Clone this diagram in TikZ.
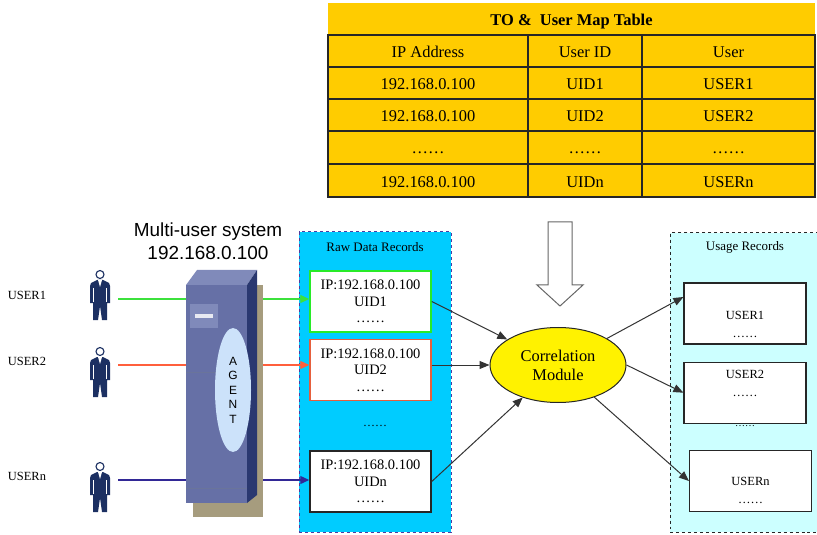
\documentclass[tikz,border=0pt]{standalone}
\usepackage{fontspec}
\setmainfont{Liberation Serif}
\newfontfamily\arialfont{Liberation Sans}
\usepackage{xcolor}
\definecolor{gold}{RGB}{255,204,0}
\definecolor{skyfill}{RGB}{0,204,255}
\definecolor{paleaqua}{RGB}{204,255,255}
\definecolor{rawedge}{RGB}{80,60,160}
\definecolor{suit}{RGB}{28,48,98}
\definecolor{linegreen}{RGB}{60,225,60}
\definecolor{linered}{RGB}{255,95,60}
\definecolor{lineblue}{RGB}{50,40,150}
\definecolor{boxgreen}{RGB}{40,235,40}
\definecolor{boxred}{RGB}{230,95,60}
\definecolor{towerfront}{RGB}{102,112,166}
\definecolor{towertop}{RGB}{128,138,186}
\definecolor{towerside}{RGB}{42,56,112}
\definecolor{towershadow}{RGB}{166,156,126}
\definecolor{agentfill}{RGB}{204,226,250}
\usepackage{tikz}
\usetikzlibrary{arrows.meta, shapes.geometric, positioning}
\tikzset{
  grid/.style={draw=black!85, line width=1.2bp},
  tabtitle/.style={font=\fontsize{16.5}{19}\selectfont\bfseries, inner sep=0},
  cell/.style={font=\fontsize{16.5}{19}\selectfont, text height=16bp, text depth=2bp, inner sep=0},
  rawarea/.style={draw=rawedge, dashed, fill=skyfill, line width=1bp,
    minimum width=152bp, minimum height=300bp},
  usagearea/.style={draw=black!85, dashed, fill=paleaqua, line width=1bp,
    minimum width=170bp, minimum height=299bp},
  arealabel/.style={font=\fontsize{13}{15}\selectfont, inner sep=0},
  rawbox/.style={fill=white, line width=1.5bp, minimum width=121bp, minimum height=61bp,
    align=center, inner sep=1bp, font=\fontsize{14.5}{16.5}\selectfont},
  usagebox/.style={draw=black!85, fill=white, line width=1.2bp, minimum width=122bp,
    minimum height=61bp, align=center, inner sep=1bp, font=\fontsize{12.5}{18}\selectfont},
  dots/.style={font=\fontsize{12}{14}\selectfont, inner sep=0},
  corr/.style={ellipse, draw=black!85, fill=yellow, line width=1bp, minimum width=136bp,
    minimum height=75bp, inner sep=0, align=center, font=\fontsize{16.5}{19}\selectfont},
  userlabel/.style={font=\fontsize{12.5}{15}\selectfont, inner sep=0},
  userline/.style={-{Triangle[length=9bp, width=8bp]}, line width=1.3bp},
  link/.style={-{Triangle[length=10bp, width=8bp]}, draw=black!80, line width=1bp},
  hollow/.style={draw=black!60, fill=white, line width=1bp},
  agent/.style={ellipse, fill=agentfill, minimum width=36bp, minimum height=124bp,
    inner sep=0, align=center, font=\arialfont\fontsize{12}{14.5}\selectfont},
  person/.pic={
    \fill[suit] (-3,10) -- (3,10) -- (9,13) -- (10,16) -- (10,33) -- (7,33) -- (7,50)
      -- (2,50) -- (0,36) -- (-2,50) -- (-7,50) -- (-7,33) -- (-10,33) -- (-10,16)
      -- (-9,13) -- cycle;
    \draw[white, line width=0.9bp] (-6.5,18) -- (-6.5,32) (6.5,18) -- (6.5,32);
    \fill[white] (-2,10) -- (0,17) -- (2,10) -- cycle;
    \draw[suit, fill=white, line width=1.1bp] (0,4.5) circle (4);
  }
}

\begin{document}
\begin{tikzpicture}[x=1bp, y=-1bp]
  \clip (0,0) rectangle (817,535);

  % user / IP map table
  \fill[gold] (328,3) rectangle (815,197);
  \draw[grid] (328,35) rectangle (815,197);
  \foreach \y in {67,99,131,164} \draw[grid] (328,\y) -- (815,\y);
  \foreach \x in {528,642} \draw[grid] (\x,35) -- (\x,197);
  \node[tabtitle] (maptitle) at (571.5,22) {TO \&\ \ User Map Table};
  \foreach \y/\ip/\uid/\usr [count=\k] in {51/IP Address/User ID/User,
      83/192.168.0.100/UID1/USER1, 115/192.168.0.100/UID2/USER2,
      147/……/……/……, 180.5/192.168.0.100/UIDn/USERn} {
    \node[cell] (ip\k) at (428,\y) {\ip};
    \node[cell] (uid\k) at (585,\y) {\uid};
    \node[cell] (usr\k) at (728.5,\y) {\usr};
  }

  \draw[hollow] (548,222) -- (572,222) -- (572,285) -- (583,285) -- (560,306)
    -- (537,285) -- (548,285) -- cycle;

  % raw records
  \node[rawarea] (raw) at (375,382) {};
  \node[arealabel] (rawtitle) at (375,247) {Raw Data Records};
  \node[rawbox, draw=boxgreen] (r1) at (370.5,301.5) {IP:192.168.0.100\\UID1\\……};
  \node[rawbox, draw=boxred, below=6bp of r1] (r2) {IP:192.168.0.100\\UID2\\……};
  \node[rawbox, draw=black!85] (rn) at (370.5,481.5) {IP:192.168.0.100\\UIDn\\……};
  \node[dots] (rawdots) at (375,426) {……};

  % usage records
  \node[usagearea] (usage) at (755,382.5) {};
  \node[arealabel] (usagetitle) at (745,247) {Usage Records};
  \node[usagebox] (s1) at (745,313.5) {\mbox{}\\[12bp]USER1\\……};
  \node[usagebox, below=17bp of s1] (s2) {USER2\\……\\\mbox{}};
  \node[usagebox] (sn) at (750.5,481) {\mbox{}\\[10bp]USERn\\……};
  \node[dots, font=\fontsize{10}{12}\selectfont] (usagedots) at (745,426) {……};

  \node[corr] (corr) at (558,365) {Correlation\\Module};

  % users and their sessions
  \foreach \i/\top/\ly/\lc in {1/270/299/linegreen, 2/347/365/linered, n/462/480/lineblue} {
    \pic at (100,\top) {person};
    \coordinate (p\i) at (118,\ly);
    \node[userlabel] (lab\i) at (27,\ly-4) {USER\i};
    \draw[userline, \lc] (p\i) -- (p\i -| r\i.west);
  }

  % multi-user host
  \fill[towershadow] (193,285) rectangle (263,517);
  \fill[towertop] (186,285) -- (197,270) -- (257,270) -- (247,285) -- cycle;
  \fill[towerside] (247,285) -- (257,270) -- (257,495) -- (247,503) -- cycle;
  \fill[towerfront] (186,285) rectangle (247,503);
  \draw[towerside!70, line width=0.8bp] (186,372) -- (247,372) (186,488) -- (247,488);
  \fill[towertop] (190,304) rectangle (218,328);
  \fill[white!85!towerfront] (195,314) rectangle (213,318);
  \node[agent] (agent) at (233,390) {A\\G\\E\\N\\T};
  \node[font=\arialfont\fontsize{19}{23}\selectfont, align=center, inner sep=0] (host)
    at (208,241) {Multi-user system\\192.168.0.100};

  \draw[link] (r1.east) -- (corr);
  \draw[link] (r2.east |- corr.west) -- (corr.west);
  \draw[link] (rn.east) -- (corr);
  \draw[link] (corr) -- (s1.165);
  \draw[link] (corr.east) -- (s2.west);
  \draw[link] (corr) -- (sn.west);

\end{tikzpicture}
\end{document}
